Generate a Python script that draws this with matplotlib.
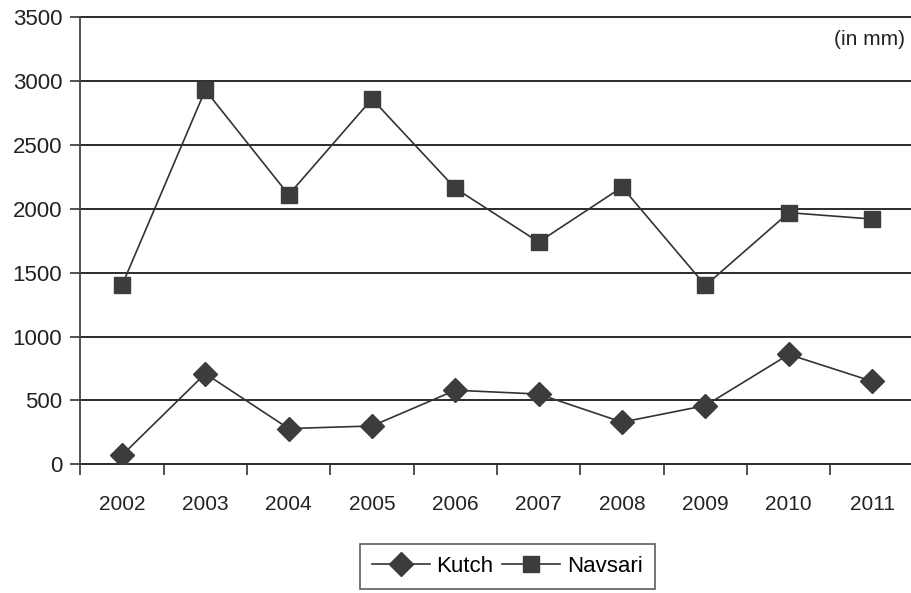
import matplotlib.pyplot as plt

plt.rcParams['font.family'] = ['Liberation Sans', 'DejaVu Sans']

years = ['2002', '2003', '2004', '2005', '2006', '2007', '2008', '2009', '2010', '2011']
kutch = [70, 710, 280, 300, 580, 550, 330, 460, 860, 650]
navsari = [1400, 2930, 2110, 2860, 2160, 1740, 2170, 1400, 1970, 1920]
yticks = [0, 500, 1000, 1500, 2000, 2500, 3000, 3500]

fig = plt.figure(figsize=(9.12, 5.93), dpi=100)
ax = fig.add_axes([0.088, 0.217, 0.914, 0.754])

x = list(range(len(years)))
ax.plot(x, kutch, color='#333333', lw=1.2, marker='D', ms=12,
        mfc='#3c3c3c', mec='#3c3c3c', label='Kutch', zorder=3)
ax.plot(x, navsari, color='#333333', lw=1.2, marker='s', ms=12,
        mfc='#3c3c3c', mec='#3c3c3c', label='Navsari', zorder=3)

ax.set_ylim(0, 3500)
ax.set_xlim(-0.5, len(years) - 0.5)
ax.set_yticks(yticks)
ax.set_yticklabels([str(v) for v in yticks], fontsize=16, color='#222222')
for v in yticks:
    ax.axhline(v, color='#1a1a1a', lw=1.3, zorder=1, clip_on=False)

ax.set_xticks(x)
ax.set_xticklabels(years, fontsize=15, color='#222222')
ax.tick_params(axis='x', length=0, pad=22)
ax.set_xticks([i - 0.5 for i in range(len(years) + 1)], minor=True)
ax.tick_params(axis='x', which='minor', length=8, width=1.2, color='#333333')
ax.tick_params(axis='y', length=7, width=1.2, color='#333333', pad=6)

for s in ['top', 'right', 'bottom']:
    ax.spines[s].set_visible(False)
ax.spines['left'].set_color('#444444')
ax.spines['left'].set_linewidth(1.3)

ax.text(0.99, 0.95, '(in mm)', transform=ax.transAxes, ha='right', va='center',
        fontsize=15, color='#222222')

leg = fig.legend(loc='center', bbox_to_anchor=(0.556, 0.045), ncol=2,
                 fontsize=16, frameon=True, fancybox=False, handlelength=2.6,
                 columnspacing=0.4, handletextpad=0.3, borderpad=0.55,
                 borderaxespad=0)
leg.get_frame().set_edgecolor('#333333')
leg.get_frame().set_linewidth(1.2)

fig.savefig('out.png', dpi=100)
